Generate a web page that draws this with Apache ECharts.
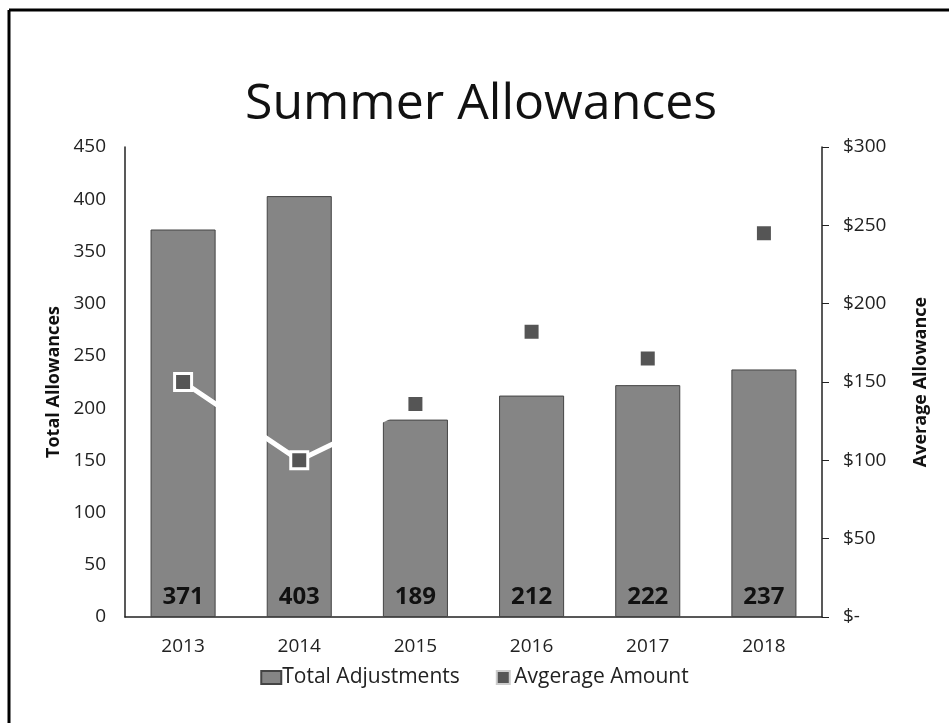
<!DOCTYPE html>
<html>
<head>
<meta charset="utf-8">
<script src="https://cdn.jsdelivr.net/npm/echarts@6/dist/echarts.min.js"></script>
<style>
html,body{margin:0;padding:0;background:#fff;}
#main{width:949px;height:723px;}
</style>
</head>
<body>
<div id="main"></div>
<script>
const years = ['2013','2014','2015','2016','2017','2018'];
const totalAdjustments = [371, 403, 189, 212, 222, 237];
const averageAmount = [150, 100, 136, 182, 165, 245];
const leftTicks = {min: 0, max: 450, interval: 50};
const rightTicks = {min: 0, max: 300, interval: 50};

const font = '"Open Sans", sans-serif';
const chart = echarts.init(document.getElementById('main'), null, {renderer: 'canvas'});
chart.setOption({
  backgroundColor: '#fff',
  animation: false,
  textStyle: {fontFamily: font},
  title: {
    text: 'Summer Allowances',
    left: 240,
    top: 75,
    textStyle: {fontFamily: font, fontSize: 50, fontWeight: 'normal', color: '#111'}
  },
  graphic: [
    {type: 'line', shape: {x1: 9, y1: 10, x2: 949, y2: 10}, style: {stroke: '#000', lineWidth: 3}},
    {type: 'line', shape: {x1: 9, y1: 10, x2: 9, y2: 723}, style: {stroke: '#000', lineWidth: 3}}
  ],
  legend: {
    bottom: 30,
    left: 'center',
    itemGap: 36,
    itemWidth: 20,
    itemHeight: 13,
    textStyle: {fontFamily: font, fontSize: 21, color: '#222', padding: [0, 0, 0, -4]},
    data: [
      {name: 'Total Adjustments', icon: 'rect'},
      {name: 'Avgerage Amount', icon: 'path://M4,2L16,2L16,14L4,14Z', itemStyle: {color: '#555', borderColor: '#ccc', borderWidth: 2}}
    ]
  },
  grid: {left: 125, right: 127, top: 147, bottom: 106, containLabel: false},
  xAxis: {
    type: 'category',
    data: years,
    axisLine: {lineStyle: {color: '#222', width: 1.5}},
    axisTick: {show: false},
    axisLabel: {fontFamily: font, fontSize: 19, color: '#222', margin: 20}
  },
  yAxis: [
    {
      type: 'value',
      min: leftTicks.min, max: leftTicks.max, interval: leftTicks.interval,
      name: 'Total Allowances',
      nameLocation: 'middle',
      nameGap: 47,
      nameTextStyle: {fontFamily: font, fontSize: 18, fontWeight: 'bold', color: '#111'},
      axisLine: {show: true, lineStyle: {color: '#222', width: 1.5}},
      axisTick: {show: false},
      splitLine: {show: false},
      axisLabel: {fontFamily: font, fontSize: 19, color: '#222', margin: 19}
    },
    {
      type: 'value',
      position: 'right',
      min: rightTicks.min, max: rightTicks.max, interval: rightTicks.interval,
      name: 'Average Allowance',
      nameLocation: 'middle',
      nameGap: 90,
      nameRotate: 90,
      nameTextStyle: {fontFamily: font, fontSize: 18, fontWeight: 'bold', color: '#111'},
      axisLine: {show: true, lineStyle: {color: '#222', width: 1.5}},
      axisTick: {show: true, length: 7, lineStyle: {color: '#222'}},
      splitLine: {show: false},
      axisLabel: {
        fontFamily: font, fontSize: 19, color: '#222', margin: 21,
        formatter: v => v === 0 ? '$-' : '$' + v
      }
    }
  ],
  series: [
    {
      name: 'Total Adjustments',
      type: 'bar',
      data: totalAdjustments,
      barCategoryGap: '44%',
      itemStyle: {color: '#858585', borderColor: '#444', borderWidth: 1},
      label: {
        show: true,
        position: 'insideBottom',
        distance: 8,
        fontFamily: font,
        fontSize: 24,
        fontWeight: 'bold',
        color: '#111'
      },
      z: 2
    },
    {
      name: 'Avgerage Amount',
      type: 'line',
      yAxisIndex: 1,
      data: averageAmount,
      symbol: 'rect',
      symbolSize: 17,
      lineStyle: {color: '#fff', width: 5},
      itemStyle: {color: '#555', borderColor: '#fff', borderWidth: 3},
      z: 5
    }
  ]
});
</script>
</body>
</html>
